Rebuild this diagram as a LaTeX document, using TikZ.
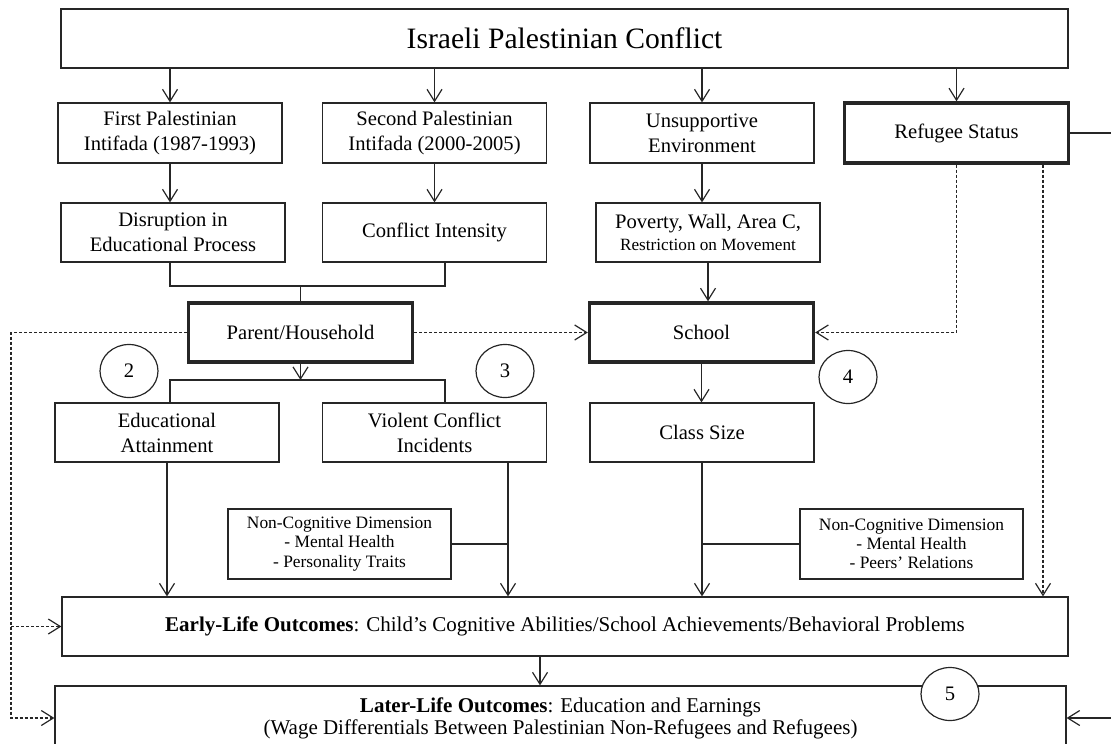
\documentclass[tikz,border=0pt]{standalone}
\usepackage{fontspec}
\setmainfont{Liberation Serif}
\usetikzlibrary{arrows.meta,calc,shapes.geometric}

\begin{document}
\begin{tikzpicture}[x=0.5pt,y=-0.5pt]

	\tikzstyle box=[draw=black!85, line width=0.6pt, align=center, inner sep=0pt, minimum width=112pt, minimum height=29.5pt, font=\fontsize{10.3}{12.5}\selectfont];
	\tikzstyle key box=[box, line width=1.7pt];
	\tikzstyle small box=[box, minimum width=111.5pt, minimum height=35pt, font=\fontsize{8.7}{9.6}\selectfont];
	\tikzstyle label circle=[draw=black!85, line width=0.6pt, ellipse, fill=white, inner sep=0pt, minimum width=29pt, minimum height=26.5pt, font=\fontsize{10.3}{12}\selectfont];
	\tikzstyle plain lines=[draw=black!85, line width=0.6pt];
	\tikzstyle link lines=[plain lines, -{Straight Barb[length=6pt,width=7.5pt]}];
	\tikzstyle feedback lines=[link lines, dash pattern=on 1.5pt off 1pt];

	\useasboundingbox (0,0) rectangle (1111,743);
	\clip (0,0) rectangle (1111,743);

	\node[box, minimum width=503.5pt, font=\fontsize{14.8}{17}\selectfont] (conflict) at (564.5,38.5) {Israeli Palestinian Conflict};

	\node[box, minimum height=30pt] (first) at (170,133) {First Palestinian\\Intifada (1987-1993)};
	\node[box, minimum height=30pt] (second) at (434.5,133) {Second Palestinian\\Intifada (2000-2005)};
	\node[box, minimum height=30pt] (unsupp) at (702,133) {Unsupportive\\Environment};
	\node[key box, minimum height=30pt] (refugee) at (956.5,133) {Refugee Status};

	\node[box] (disrupt) at (173,232.5) {Disruption in\\Educational Process};
	\node[box] (intensity) at (434.5,232.5) {Conflict Intensity};
	\node[box] (poverty) at (708,232.5) {Poverty, Wall, Area C,\\[-1.5pt]{\fontsize{8.6}{10}\selectfont Restriction on Movement}};

	\node[key box] (parent) at (300.5,332.5) {Parent/Household};
	\node[key box] (school) at (701.5,332.5) {School};

	\node[box] (educ) at (167,432.5) {Educational\\Attainment};
	\node[box] (violent) at (434.5,432.5) {Violent Conflict\\Incidents};
	\node[box] (classsize) at (702,432.5) {Class Size};

	\node[small box] (noncogA) at (339.5,544) {Non-Cognitive Dimension\\- Mental Health\\- Personality Traits};
	\node[small box] (noncogB) at (911.5,544) {Non-Cognitive Dimension\\- Mental Health\\- Peers’ Relations};

	\node[box, minimum width=503pt, font=\fontsize{10.5}{12}\selectfont] (early) at (565,626.5) {\textbf{Early-Life Outcomes}: Child’s Cognitive Abilities/School Achievements/Behavioral Problems};
	\node[box, minimum width=505.5pt, minimum height=32pt, font=\fontsize{10.5}{11}\selectfont] (later) at (560.5,718) {\textbf{Later-Life Outcomes}: Education and Earnings\\(Wage Differentials Between Palestinian Non-Refugees and Refugees)};

	\foreach \n/\x/\y in {2/129/371,3/505/371,4/848/377,5/950/694}
		\node[label circle] (c\n) at (\x,\y) {\n};

	% rails
	\coordinate (colA) at (170,0);
	\coordinate (colB) at (445,0);
	\coordinate (merge) at (0,286);
	\coordinate (split) at (0,380);
	\coordinate (dropV) at (508,0);
	\coordinate (dropE) at (540,0);
	\coordinate (railL) at (11,0);
	\coordinate (railR) at (1043,0);
	\coordinate (edge) at (1130,0);

	\foreach \n in {first,second,unsupp,refugee}
		\draw[link lines] (conflict.south -| \n) -- (\n.north);
	\foreach \a/\b in {first/disrupt,second/intensity,unsupp/poverty,poverty/school,school/classsize}
		\draw[link lines] (\a.south) -- (\a.south |- \b.north);

	\draw[plain lines] (colA |- disrupt.south) -- (colA |- merge) -- (colB |- merge) -- (colB |- intensity.south);
	\draw[plain lines] (parent.north |- merge) -- (parent.north);

	\draw[link lines] (parent.south) -- (parent.south |- split);
	\draw[plain lines] (colA |- educ.north) -- (colA |- split) -- (colB |- split) -- (colB |- violent.north);

	\draw[link lines] (educ.south) -- (educ.south |- early.north);
	\draw[link lines] (dropV |- violent.south) -- (dropV |- early.north);
	\draw[plain lines] (noncogA.east) -- (noncogA.east -| dropV);
	\draw[link lines] (classsize.south) -- (classsize.south |- early.north);
	\draw[plain lines] (noncogB.west) -- (noncogB.west -| classsize.south);
	\draw[link lines] (dropE |- early.south) -- (dropE |- later.north);

	\draw[feedback lines] (parent.west) -- (railL |- parent.west) -- (railL |- later.west) -- (later.west);
	\draw[feedback lines] (railL |- early.west) -- (early.west);
	\draw[feedback lines] (parent.east) -- (school.west);
	\draw[feedback lines] (refugee.south) |- (school.east);
	\draw[feedback lines] (railR |- refugee.south) -- (railR |- early.north);
	\draw[link lines] (refugee.east) -- (edge |- refugee.east) -- (edge |- later.east) -- (later.east);

\end{tikzpicture}
\end{document}
